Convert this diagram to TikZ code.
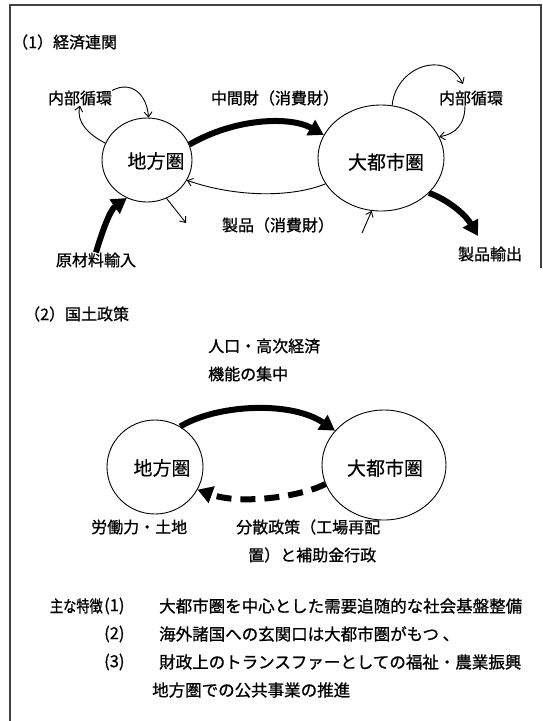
\documentclass[tikz,border=0pt]{standalone}
\usepackage{fontspec}
\setmainfont{Noto Sans CJK JP}
\newfontfamily\jpheavy[FakeBold=0.9]{Noto Sans CJK JP}
\newfontfamily\jpmid[FakeBold=0.4]{Noto Sans CJK JP}
\usetikzlibrary{arrows.meta,shapes.geometric}
\begin{document}
\begin{tikzpicture}[x=1pt,y=-1pt,
  lbl/.style={font=\jpheavy\fontsize{16}{18}\selectfont, inner sep=0pt},
  lblb/.style={font=\jpheavy\fontsize{16.5}{18}\selectfont, inner sep=0pt, anchor=west},
  big/.style={font=\jpmid\fontsize{19}{21}\selectfont, inner sep=0pt},
  ell/.style={ellipse, draw, line width=0.9pt, inner sep=0pt},
  thinarr/.style={line width=0.9pt, -{Straight Barb[length=5pt,width=8pt]}},
  fatarr/.style={line width=6pt, -{Triangle[length=15pt,width=17pt]}},
  framel/.style={line width=1.1pt, black!75}]
\useasboundingbox (0,0) rectangle (543,721);
\fill[white] (0,0) rectangle (543,721);
% frame
\draw[framel] (10,721) -- (10,5) -- (541,5) -- (541,268);

% ---------- section 1 ----------
\node[lbl, anchor=west] (t1) at (12,42) {（1）経済連関};
\node[ell, minimum width=90pt, minimum height=84pt] (A) at (147,160) {};
\node[big] (Atext) at (156,161) {地方圏};
\node[ell, minimum width=126pt, minimum height=106pt] (B) at (381,158) {};
\node[big] (Btext) at (386,162) {大都市圏};

\node[lbl] (L1) at (80,98) {内部循環};
\node[lbl] (M1) at (275,98) {中間財（消費財）};
\node[lbl] (R2) at (471,98) {内部循環};
\node[lbl] (P1) at (278,225) {製品（消費財）};
\node[lbl] (G1) at (96,260) {原材料輸入};
\node[lbl] (E1) at (490,254) {製品輸出};

\coordinate (a1) at (186,223);
\coordinate (b1) at (362,233);
\coordinate (b2) at (463,84);
\coordinate (b3) at (478,236);

% flows
\draw[fatarr] (A.20) .. controls (235,118) and (290,116) .. (B.158);
\draw[thinarr] (B.205) .. controls (290,198) and (235,197) .. (A.-27);
\draw[thinarr] (A.158) .. controls (88,134) and (76,122) .. (L1.south);
\draw[thinarr] (L1.north east) .. controls (132,80) and (147,95) .. (A.88);
\draw[fatarr] (G1.north) .. controls (102,232) and (110,210) .. (A.-118);
\draw[thinarr] (A.-63) -- (a1);
\draw[thinarr] (B.78) .. controls (395,68) and (445,48) .. (b2);
\draw[thinarr] ([xshift=-6pt]R2.south) .. controls (465,125) and (455,134) .. (B.20);
\draw[thinarr] (b1) -- (B.-100);
\draw[fatarr] (B.-36) .. controls (448,200) and (465,214) .. (b3);

% ---------- section 2 ----------
\node[lbl, anchor=west] (t2) at (24,314) {（2）国土政策};
\node[lbl, anchor=west] (H1) at (208,346) {人口・高次経済};
\node[lbl, anchor=west] (H2) at (208,374) {機能の集中};
\node[ell, minimum width=96pt, minimum height=94pt] (C) at (155,467) {};
\node[big] (Ctext) at (162,468) {地方圏};
\node[ell, minimum width=124pt, minimum height=110pt] (D) at (384,465) {};
\node[big] (Dtext) at (385,468) {大都市圏};
\node[lbl, anchor=west] (W1) at (91,527) {労働力・土地};
\node[lbl, anchor=west] (S1) at (236,527) {分散政策（工場再配};
\node[lbl, anchor=west] (S2) at (248,555) {置）と補助金行政};

\draw[fatarr] (C.58) .. controls (215,405) and (290,400) .. (D.145);
\draw[fatarr, dash pattern=on 15pt off 9pt] (D.198) .. controls (300,497) and (240,505) .. (C.-28);

% ---------- section 3 ----------
\node[lblb, anchor=east] (F0) at (103,606) {\scalebox{0.8}[1]{主な特徴}};
\node[lblb] (F1n) at (104,606) {(1)};
\node[lblb] (F1) at (159,606) {大都市圏を中心とした需要追随的な社会基盤整備};
\node[lblb] (F2n) at (104,634) {(2)};
\node[lblb] (F2) at (159,634) {海外諸国への玄関口は大都市圏がもつ 、};
\node[lblb] (F3n) at (104,662) {(3)};
\node[lblb] (F3) at (159,662) {財政上のトランスファーとしての福祉・農業振興};
\node[lblb] (F4) at (152,690) {地方圏での公共事業の推進};
\end{tikzpicture}
\end{document}
